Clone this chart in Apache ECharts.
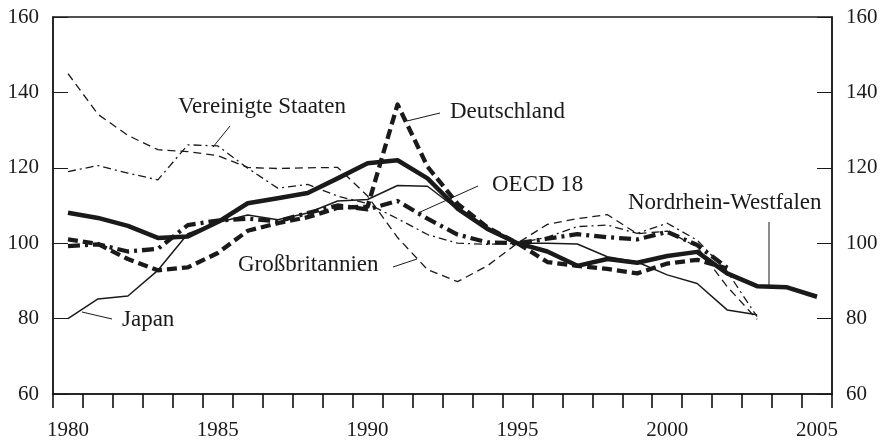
<!DOCTYPE html>
<html>
<head>
<meta charset="utf-8">
<script src="https://cdn.jsdelivr.net/npm/echarts@6.0.0/dist/echarts.min.js"></script>
<style>
  html, body { margin: 0; padding: 0; background: #fff; }
  #chart { width: 883px; height: 442px; }
</style>
</head>
<body>
<div id="chart"></div>
<script>
// years on the x axis
const years = [];
for (let y = 1980; y <= 2005; y++) years.push(String(y));

// index values (1995 = 100)
const nrw = [108.1, 106.7, 104.6, 101.4, 101.8, 105.6, 110.6, 111.9, 113.3, 117.2, 121.2, 122, 117.2, 109.2, 103.8, 100, 97.8, 94, 95.8, 94.8, 96.6, 97.7, 92, 88.6, 88.3, 85.8];
const deutschland = [101, 99.8, 95.8, 92.8, 93.6, 97.4, 103.3, 105.3, 106.9, 109.4, 109.7, 136.8, 120.3, 110.5, 104.2, 100, 95, 94, 93.2, 92, 94.6, 95.6, 93.3, null, null, null];
const oecd = [99.2, 99.7, 97.8, 98.5, 104.8, 106, 106.5, 105.8, 108, 110, 109, 111.2, 106.5, 102.3, 100.2, 100, 101.2, 102.4, 101.6, 101, 103, 99.5, 93.5, null, null, null];
const japan = [80, 85.2, 86, 92.8, 102.5, 105.5, 107.5, 106.2, 108, 111.2, 111.6, 115.3, 115.1, 109, 103.5, 100, 100, 99.8, 96.4, 95, 91.6, 89.3, 82.3, 81, null, null];
const usa = [119, 120.6, 118.6, 116.8, 126.1, 125.8, 119.9, 114.6, 115.6, 112.5, 110.5, 106.5, 102.3, 100, 99.7, 100, 101.6, 104.4, 104.8, 102.6, 105.3, 100.8, 92.5, 80.5, null, null];
const gb = [145, 134.2, 128.6, 124.8, 124.3, 123.2, 120.1, 119.8, 120, 120.1, 112.5, 101.5, 93, 89.8, 94, 100, 105, 106.5, 107.6, 102.5, 103.2, 99, 88.5, 79.8, null, null];

const yTicks = { min: 60, max: 160, interval: 20 };

const ink = '#1a1a1a';
const serif = '"Liberation Serif", "DejaVu Serif", serif';

function lineSeries(name, data, width, dash) {
  return {
    name: name,
    type: 'line',
    data: data,
    symbol: 'none',
    connectNulls: false,
    silent: true,
    lineStyle: { color: ink, width: width, type: dash, cap: 'butt', join: 'round' }
  };
}

function yAxisDef(pos) {
  return {
    type: 'value',
    position: pos,
    min: yTicks.min,
    max: yTicks.max,
    interval: yTicks.interval,
    axisLine: { show: true, lineStyle: { color: ink, width: 1.5 } },
    axisTick: { show: true, inside: true, length: 15, lineStyle: { color: ink, width: 1 } },
    axisLabel: { color: ink, fontFamily: serif, fontSize: 21, margin: 14 },
    splitLine: { show: false }
  };
}

function label(text, x, y) {
  return {
    type: 'text',
    x: x,
    y: y,
    style: { text: text, fill: ink, font: '23px ' + serif, textVerticalAlign: 'middle' }
  };
}

function leader(x1, y1, x2, y2) {
  return {
    type: 'line',
    shape: { x1: x1, y1: y1, x2: x2, y2: y2 },
    style: { stroke: ink, lineWidth: 1 }
  };
}

const chart = echarts.init(document.getElementById('chart'));
chart.setOption({
  animation: false,
  backgroundColor: '#fff',
  grid: {
    left: 53, right: 51, top: 17, bottom: 48,
    show: true, borderColor: ink, borderWidth: 1.5
  },
  xAxis: {
    type: 'category',
    data: years,
    boundaryGap: true,
    axisLine: { show: true, lineStyle: { color: ink, width: 1.5 } },
    axisTick: { show: true, interval: 0, length: 14, lineStyle: { color: '#000', width: 1.5 } },
    axisLabel: { interval: 4, color: ink, fontFamily: serif, fontSize: 21, margin: 26 },
    splitLine: { show: false }
  },
  yAxis: [yAxisDef('left'), yAxisDef('right')],
  series: [
    lineSeries('Großbritannien', gb, 1.3, [8, 5]),
    lineSeries('Vereinigte Staaten', usa, 1.3, [8, 4, 2, 4]),
    lineSeries('Japan', japan, 1.5, 'solid'),
    lineSeries('OECD 18', oecd, 4.3, [12, 5, 3, 5]),
    lineSeries('Deutschland', deutschland, 4.3, [10, 5]),
    lineSeries('Nordrhein-Westfalen', nrw, 4.5, 'solid')
  ],
  graphic: [
    label('Vereinigte Staaten', 178, 107),
    leader(230, 126, 213, 147),
    label('Deutschland', 450, 112),
    leader(440, 113, 407, 121),
    label('OECD 18', 492, 185),
    leader(478, 186, 418, 213),
    label('Großbritannien', 238, 265),
    leader(393, 267, 417, 259),
    label('Japan', 122, 320),
    leader(112, 319, 82, 312),
    label('Nordrhein-Westfalen', 628, 203),
    leader(769, 222, 769, 285)
  ]
});
</script>
</body>
</html>
